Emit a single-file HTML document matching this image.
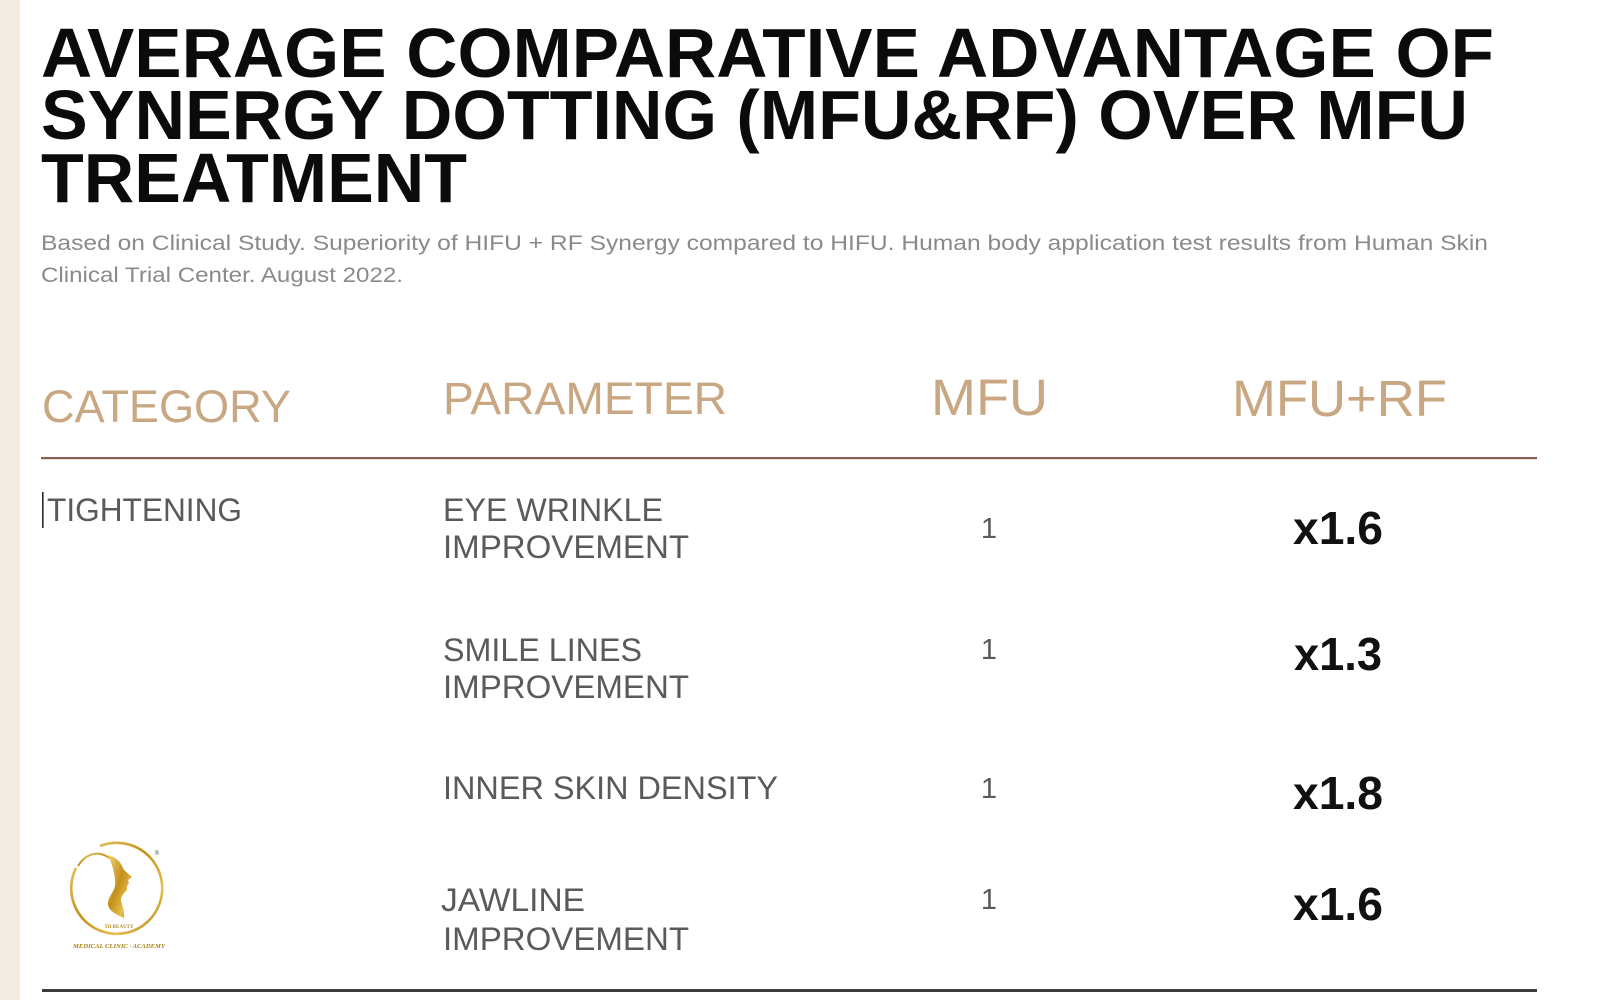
<!DOCTYPE html>
<html>
<head>
<meta charset="utf-8">
<style>
  html,body{margin:0;padding:0;background:#ffffff;}
  svg{display:block;}
  .t{font-family:"Liberation Sans",sans-serif;font-weight:bold;fill:#0b0b0b;}
  .s{font-family:"Liberation Sans",sans-serif;fill:#8a8a8a;}
  .h{font-family:"Liberation Sans",sans-serif;fill:#c8a782;}
  .r{font-family:"Liberation Sans",sans-serif;fill:#5a5a5a;}
  .v{font-family:"Liberation Sans",sans-serif;font-weight:bold;fill:#111;}
</style>
</head>
<body>
<svg width="1600" height="1000" viewBox="0 0 1600 1000" xmlns="http://www.w3.org/2000/svg">
  <defs>
    <linearGradient id="gold" x1="0" y1="0" x2="1" y2="1">
      <stop offset="0" stop-color="#f0d478"/>
      <stop offset="0.45" stop-color="#c4901a"/>
      <stop offset="0.75" stop-color="#e6c052"/>
      <stop offset="1" stop-color="#a8760e"/>
    </linearGradient>
  </defs>
  <rect x="0" y="0" width="1600" height="1000" fill="#ffffff"/>
  <rect x="0" y="0" width="20" height="1000" fill="#f3ece2"/>

  <!-- Title -->
  <text class="t" x="41" y="77" font-size="70" textLength="1453" lengthAdjust="spacingAndGlyphs">AVERAGE COMPARATIVE ADVANTAGE OF</text>
  <text class="t" x="41" y="139" font-size="70" textLength="1427" lengthAdjust="spacingAndGlyphs">SYNERGY DOTTING (MFU&amp;RF) OVER MFU</text>
  <text class="t" x="41" y="202" font-size="70" textLength="426" lengthAdjust="spacingAndGlyphs">TREATMENT</text>

  <!-- Subtitle -->
  <text class="s" x="41" y="250" font-size="21" textLength="1447" lengthAdjust="spacingAndGlyphs">Based on Clinical Study. Superiority of HIFU + RF Synergy compared to HIFU. Human body application test results from Human Skin</text>
  <text class="s" x="41" y="282" font-size="21" textLength="362" lengthAdjust="spacingAndGlyphs">Clinical Trial Center. August 2022.</text>

  <!-- Header -->
  <text class="h" x="42" y="422" font-size="45" textLength="249" lengthAdjust="spacingAndGlyphs">CATEGORY</text>
  <text class="h" x="443" y="414" font-size="45" textLength="284" lengthAdjust="spacingAndGlyphs">PARAMETER</text>
  <text class="h" x="931" y="415" font-size="51" textLength="117" lengthAdjust="spacingAndGlyphs">MFU</text>
  <text class="h" x="1232" y="416" font-size="51" textLength="215" lengthAdjust="spacingAndGlyphs">MFU+RF</text>

  <rect x="41" y="457" width="1496" height="2.2" fill="#8c5c55"/>

  <!-- Row 1 -->
  <rect x="42" y="492" width="1.6" height="36" fill="#2a2a2a"/>
  <text class="r" x="47" y="521" font-size="32" textLength="195" lengthAdjust="spacingAndGlyphs">TIGHTENING</text>
  <text class="r" x="443" y="521" font-size="32" textLength="220" lengthAdjust="spacingAndGlyphs">EYE WRINKLE</text>
  <text class="r" x="443" y="558" font-size="32" textLength="246" lengthAdjust="spacingAndGlyphs">IMPROVEMENT</text>
  <text class="r" x="989" y="538" font-size="29" text-anchor="middle">1</text>
  <text class="v" x="1293" y="544" font-size="46" textLength="90" lengthAdjust="spacingAndGlyphs">x1.6</text>

  <!-- Row 2 -->
  <text class="r" x="443" y="661" font-size="32" textLength="199" lengthAdjust="spacingAndGlyphs">SMILE LINES</text>
  <text class="r" x="443" y="698" font-size="32" textLength="246" lengthAdjust="spacingAndGlyphs">IMPROVEMENT</text>
  <text class="r" x="989" y="659" font-size="29" text-anchor="middle">1</text>
  <text class="v" x="1294" y="670" font-size="46" textLength="88" lengthAdjust="spacingAndGlyphs">x1.3</text>

  <!-- Row 3 -->
  <text class="r" x="443" y="799" font-size="32" textLength="335" lengthAdjust="spacingAndGlyphs">INNER SKIN DENSITY</text>
  <text class="r" x="989" y="798" font-size="29" text-anchor="middle">1</text>
  <text class="v" x="1293" y="809" font-size="46" textLength="90" lengthAdjust="spacingAndGlyphs">x1.8</text>

  <!-- Row 4 -->
  <text class="r" x="441" y="911" font-size="32" textLength="144" lengthAdjust="spacingAndGlyphs">JAWLINE</text>
  <text class="r" x="443" y="950" font-size="32" textLength="246" lengthAdjust="spacingAndGlyphs">IMPROVEMENT</text>
  <text class="r" x="989" y="909" font-size="29" text-anchor="middle">1</text>
  <text class="v" x="1293" y="920" font-size="46" textLength="90" lengthAdjust="spacingAndGlyphs">x1.6</text>

  <!-- Bottom line -->
  <rect x="42" y="989" width="1495" height="3" fill="#3c3c3c"/>

  <!-- Logo -->
  <g>
    <path d="M100,846 A45.5,45.5 0 1 1 76,868" fill="none" stroke="url(#gold)" stroke-width="2.6"/>
    <path d="M78,866 C84,856 94,851 104,855 C108,857 110,858 112,860" fill="none" stroke="url(#gold)" stroke-width="2"/>
    <path d="M108,855 C115,857 120,861 122,866 L124,870 L132,877 L128,880 L129,883 L127,886 L127,890 C124,893 121,896 121,900 C122,906 125,912 124,918 C117,915 109,911 108,905 C107,898 114,892 115,886 C116,878 113,866 108,855 Z" fill="url(#gold)"/>
    <text x="157" y="855" font-size="6" font-family="Liberation Sans, sans-serif" fill="#555" text-anchor="middle">®</text>
    <text x="119" y="928" font-size="5" font-family="Liberation Serif, serif" font-weight="bold" fill="#b8901e" text-anchor="middle">TD BEAUTY</text>
    <text x="73" y="948" font-size="6.5" font-family="Liberation Serif, serif" font-style="italic" font-weight="bold" fill="#a8801a" textLength="92" lengthAdjust="spacingAndGlyphs">MEDICAL  CLINIC · ACADEMY</text>
  </g>
</svg>
</body>
</html>
